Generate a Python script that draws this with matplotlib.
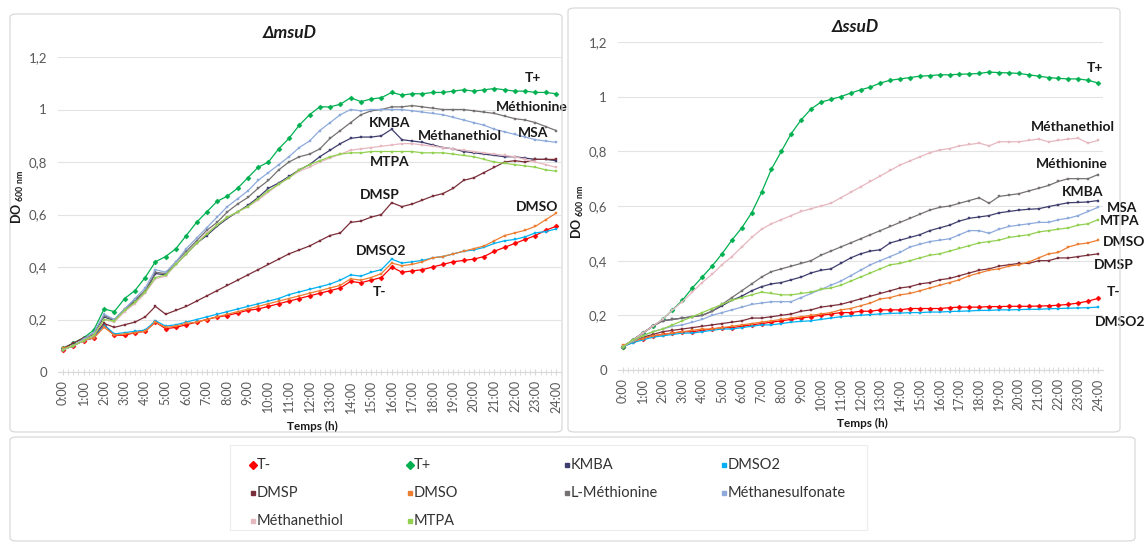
import matplotlib
matplotlib.use("Agg")
import matplotlib.pyplot as plt
from matplotlib.patches import FancyBboxPatch
import numpy as np

# --- donnees (DO 600 nm toutes les 30 min) ---
HOURS = np.arange(0, 24.5, 0.5)
HOUR_TICKS = list(range(25))
HOUR_LABELS = [f"{h}:00" for h in HOUR_TICKS]
Y_TICKS = [0, 0.2, 0.4, 0.6, 0.8, 1.0, 1.2]
Y_LABELS = ["0", "0,2", "0,4", "0,6", "0,8", "1", "1,2"]

SERIES_NAMES = ["T-", "T+", "KMBA", "DMSO2", "DMSP", "DMSO",
                "L-Méthionine", "Méthanesulfonate", "Méthanethiol", "MTPA"]

# panneau gauche : delta msuD
MSUD_T_MINUS = [0.085, 0.10, 0.12, 0.13, 0.18, 0.14, 0.14, 0.15, 0.155, 0.19,
                0.165, 0.17, 0.18, 0.19, 0.20, 0.21, 0.215, 0.225, 0.235, 0.24,
                0.25, 0.26, 0.27, 0.28, 0.29, 0.30, 0.31, 0.32, 0.345, 0.34,
                0.35, 0.36, 0.40, 0.38, 0.385, 0.39, 0.40, 0.41, 0.42, 0.425,
                0.43, 0.44, 0.46, 0.475, 0.49, 0.505, 0.52, 0.54, 0.555]
MSUD_T_PLUS = [0.09, 0.11, 0.13, 0.16, 0.24, 0.23, 0.28, 0.31, 0.36, 0.42,
               0.44, 0.47, 0.52, 0.57, 0.61, 0.65, 0.67, 0.70, 0.74, 0.78,
               0.80, 0.85, 0.89, 0.94, 0.98, 1.01, 1.01, 1.02, 1.045, 1.03,
               1.04, 1.045, 1.065, 1.055, 1.06, 1.06, 1.065, 1.065, 1.07, 1.075,
               1.07, 1.075, 1.08, 1.075, 1.07, 1.07, 1.065, 1.065, 1.06]
MSUD_KMBA = [0.085, 0.10, 0.12, 0.145, 0.21, 0.195, 0.235, 0.27, 0.305, 0.375,
             0.37, 0.41, 0.45, 0.49, 0.52, 0.555, 0.585, 0.61, 0.635, 0.665,
             0.70, 0.72, 0.745, 0.77, 0.79, 0.82, 0.845, 0.87, 0.89, 0.895,
             0.895, 0.90, 0.925, 0.885, 0.88, 0.875, 0.865, 0.855, 0.85, 0.84,
             0.835, 0.83, 0.825, 0.82, 0.82, 0.815, 0.81, 0.81, 0.805]
MSUD_DMSO2 = [0.085, 0.10, 0.12, 0.13, 0.18, 0.145, 0.15, 0.155, 0.16, 0.195,
              0.175, 0.18, 0.19, 0.20, 0.21, 0.22, 0.23, 0.24, 0.25, 0.26,
              0.27, 0.28, 0.295, 0.305, 0.315, 0.325, 0.335, 0.35, 0.37, 0.365,
              0.38, 0.39, 0.43, 0.415, 0.42, 0.425, 0.435, 0.44, 0.45, 0.46,
              0.465, 0.475, 0.49, 0.50, 0.505, 0.515, 0.53, 0.535, 0.545]
MSUD_DMSP = [0.09, 0.11, 0.13, 0.14, 0.185, 0.17, 0.18, 0.19, 0.21, 0.25,
             0.22, 0.235, 0.25, 0.27, 0.29, 0.31, 0.33, 0.35, 0.37, 0.39,
             0.41, 0.43, 0.45, 0.465, 0.48, 0.50, 0.52, 0.53, 0.57, 0.575,
             0.59, 0.60, 0.645, 0.63, 0.64, 0.655, 0.67, 0.68, 0.70, 0.73,
             0.74, 0.76, 0.78, 0.80, 0.805, 0.80, 0.81, 0.81, 0.81]
MSUD_DMSO = [0.09, 0.10, 0.12, 0.13, 0.17, 0.14, 0.145, 0.15, 0.155, 0.19,
             0.17, 0.175, 0.185, 0.19, 0.20, 0.21, 0.22, 0.23, 0.24, 0.25,
             0.26, 0.27, 0.28, 0.29, 0.30, 0.31, 0.32, 0.33, 0.355, 0.35,
             0.36, 0.375, 0.415, 0.405, 0.41, 0.42, 0.435, 0.44, 0.45, 0.46,
             0.47, 0.48, 0.50, 0.52, 0.53, 0.54, 0.555, 0.58, 0.605]
MSUD_METHIONINE = [0.085, 0.10, 0.125, 0.15, 0.215, 0.20, 0.24, 0.275, 0.31, 0.38,
                   0.375, 0.42, 0.46, 0.50, 0.54, 0.57, 0.61, 0.64, 0.665, 0.70,
                   0.73, 0.77, 0.80, 0.82, 0.83, 0.85, 0.89, 0.92, 0.95, 0.98,
                   0.995, 1.0, 1.01, 1.01, 1.015, 1.01, 1.005, 1.0, 1.0, 1.0,
                   0.995, 0.99, 0.985, 0.975, 0.965, 0.96, 0.95, 0.935, 0.92]
MSUD_MSA = [0.085, 0.10, 0.125, 0.15, 0.22, 0.20, 0.24, 0.28, 0.32, 0.39,
            0.38, 0.42, 0.47, 0.51, 0.55, 0.59, 0.63, 0.66, 0.69, 0.73,
            0.76, 0.79, 0.82, 0.855, 0.88, 0.92, 0.95, 0.98, 1.0, 0.995,
            1.0, 1.0, 1.0, 1.0, 0.995, 0.99, 0.985, 0.98, 0.97, 0.96,
            0.95, 0.94, 0.925, 0.915, 0.905, 0.895, 0.885, 0.88, 0.875]
MSUD_METHANETHIOL = [0.085, 0.10, 0.12, 0.14, 0.20, 0.19, 0.23, 0.26, 0.30, 0.355,
                     0.365, 0.41, 0.45, 0.49, 0.53, 0.56, 0.59, 0.61, 0.63, 0.655,
                     0.685, 0.715, 0.74, 0.765, 0.78, 0.80, 0.815, 0.83, 0.845, 0.85,
                     0.855, 0.86, 0.865, 0.87, 0.87, 0.865, 0.86, 0.855, 0.85, 0.845,
                     0.84, 0.835, 0.83, 0.825, 0.82, 0.81, 0.80, 0.79, 0.78]
MSUD_MTPA = [0.085, 0.10, 0.12, 0.14, 0.20, 0.195, 0.235, 0.265, 0.305, 0.36,
             0.37, 0.41, 0.45, 0.49, 0.525, 0.56, 0.59, 0.61, 0.63, 0.66,
             0.69, 0.715, 0.74, 0.77, 0.79, 0.805, 0.82, 0.83, 0.835, 0.835,
             0.84, 0.84, 0.84, 0.84, 0.84, 0.835, 0.835, 0.835, 0.83, 0.825,
             0.82, 0.81, 0.80, 0.795, 0.79, 0.785, 0.78, 0.77, 0.765]

# panneau droit : delta ssuD
SSUD_T_MINUS = [0.085, 0.105, 0.115, 0.125, 0.13, 0.135, 0.14, 0.14, 0.145, 0.15,
                0.155, 0.155, 0.16, 0.165, 0.17, 0.175, 0.18, 0.185, 0.19, 0.195,
                0.20, 0.205, 0.21, 0.21, 0.215, 0.215, 0.22, 0.22, 0.22, 0.225,
                0.225, 0.225, 0.225, 0.228, 0.23, 0.23, 0.23, 0.232, 0.232, 0.233,
                0.233, 0.233, 0.234, 0.235, 0.237, 0.24, 0.245, 0.252, 0.262]
SSUD_T_PLUS = [0.085, 0.11, 0.135, 0.16, 0.185, 0.22, 0.255, 0.30, 0.34, 0.38,
               0.425, 0.475, 0.52, 0.575, 0.65, 0.735, 0.80, 0.865, 0.915, 0.955,
               0.98, 0.99, 1.0, 1.013, 1.025, 1.035, 1.05, 1.06, 1.065, 1.07,
               1.075, 1.077, 1.08, 1.08, 1.082, 1.083, 1.085, 1.09, 1.088, 1.087,
               1.085, 1.08, 1.075, 1.07, 1.067, 1.065, 1.065, 1.06, 1.05]
SSUD_KMBA = [0.085, 0.11, 0.135, 0.16, 0.18, 0.185, 0.19, 0.195, 0.20, 0.215,
             0.235, 0.255, 0.27, 0.29, 0.305, 0.315, 0.32, 0.33, 0.34, 0.355,
             0.365, 0.37, 0.39, 0.41, 0.425, 0.435, 0.44, 0.465, 0.475, 0.485,
             0.495, 0.51, 0.52, 0.53, 0.545, 0.555, 0.56, 0.565, 0.575, 0.58,
             0.585, 0.588, 0.59, 0.598, 0.605, 0.612, 0.613, 0.615, 0.62]
SSUD_DMSO2 = [0.085, 0.10, 0.11, 0.12, 0.125, 0.13, 0.135, 0.135, 0.14, 0.145,
              0.15, 0.15, 0.155, 0.16, 0.165, 0.165, 0.17, 0.175, 0.178, 0.18,
              0.185, 0.19, 0.195, 0.198, 0.20, 0.203, 0.205, 0.207, 0.208, 0.21,
              0.21, 0.212, 0.212, 0.214, 0.215, 0.216, 0.218, 0.218, 0.22, 0.22,
              0.221, 0.222, 0.222, 0.224, 0.225, 0.226, 0.227, 0.228, 0.23]
SSUD_DMSP = [0.085, 0.105, 0.12, 0.13, 0.14, 0.145, 0.15, 0.155, 0.16, 0.165,
             0.17, 0.175, 0.18, 0.19, 0.19, 0.195, 0.20, 0.205, 0.215, 0.22,
             0.23, 0.235, 0.24, 0.25, 0.26, 0.27, 0.28, 0.29, 0.30, 0.305,
             0.315, 0.32, 0.33, 0.335, 0.345, 0.355, 0.365, 0.37, 0.38, 0.385,
             0.39, 0.39, 0.40, 0.40, 0.41, 0.41, 0.415, 0.42, 0.425]
SSUD_DMSO = [0.09, 0.105, 0.115, 0.125, 0.13, 0.135, 0.14, 0.145, 0.15, 0.15,
             0.155, 0.16, 0.165, 0.17, 0.175, 0.18, 0.185, 0.19, 0.195, 0.20,
             0.205, 0.21, 0.22, 0.225, 0.235, 0.245, 0.26, 0.265, 0.275, 0.28,
             0.29, 0.30, 0.31, 0.32, 0.33, 0.345, 0.355, 0.365, 0.37, 0.38,
             0.385, 0.395, 0.41, 0.425, 0.43, 0.45, 0.46, 0.465, 0.475]
SSUD_METHIONINE = [0.085, 0.11, 0.135, 0.16, 0.18, 0.185, 0.19, 0.195, 0.20, 0.215,
                   0.24, 0.265, 0.29, 0.315, 0.34, 0.36, 0.37, 0.38, 0.39, 0.40,
                   0.42, 0.435, 0.45, 0.465, 0.48, 0.495, 0.51, 0.525, 0.54, 0.555,
                   0.57, 0.585, 0.595, 0.60, 0.61, 0.62, 0.63, 0.61, 0.635, 0.64,
                   0.645, 0.655, 0.665, 0.675, 0.69, 0.70, 0.70, 0.70, 0.715]
SSUD_MSA = [0.085, 0.105, 0.125, 0.14, 0.15, 0.16, 0.165, 0.175, 0.185, 0.20,
            0.21, 0.22, 0.23, 0.24, 0.245, 0.25, 0.25, 0.25, 0.265, 0.28,
            0.295, 0.31, 0.325, 0.345, 0.365, 0.385, 0.40, 0.415, 0.43, 0.45,
            0.46, 0.47, 0.475, 0.48, 0.495, 0.51, 0.51, 0.50, 0.515, 0.525,
            0.53, 0.535, 0.54, 0.54, 0.55, 0.555, 0.565, 0.58, 0.595]
SSUD_METHANETHIOL = [0.085, 0.11, 0.135, 0.16, 0.185, 0.22, 0.25, 0.285, 0.32, 0.35,
                     0.385, 0.415, 0.45, 0.485, 0.515, 0.535, 0.55, 0.565, 0.58, 0.59,
                     0.60, 0.61, 0.63, 0.65, 0.67, 0.69, 0.71, 0.73, 0.75, 0.765,
                     0.78, 0.795, 0.805, 0.81, 0.82, 0.825, 0.83, 0.82, 0.835, 0.835,
                     0.835, 0.84, 0.845, 0.835, 0.84, 0.845, 0.848, 0.83, 0.84]
SSUD_MTPA = [0.085, 0.11, 0.125, 0.14, 0.15, 0.165, 0.18, 0.195, 0.21, 0.225,
             0.24, 0.255, 0.265, 0.275, 0.285, 0.28, 0.275, 0.275, 0.28, 0.285,
             0.295, 0.30, 0.31, 0.325, 0.34, 0.355, 0.37, 0.385, 0.39, 0.40,
             0.41, 0.42, 0.425, 0.435, 0.445, 0.455, 0.465, 0.47, 0.475, 0.485,
             0.49, 0.495, 0.505, 0.51, 0.515, 0.52, 0.53, 0.535, 0.55]

MSUD = [MSUD_T_MINUS, MSUD_T_PLUS, MSUD_KMBA, MSUD_DMSO2, MSUD_DMSP, MSUD_DMSO,
        MSUD_METHIONINE, MSUD_MSA, MSUD_METHANETHIOL, MSUD_MTPA]
SSUD = [SSUD_T_MINUS, SSUD_T_PLUS, SSUD_KMBA, SSUD_DMSO2, SSUD_DMSP, SSUD_DMSO,
        SSUD_METHIONINE, SSUD_MSA, SSUD_METHANETHIOL, SSUD_MTPA]

# --- style ---
COLORS = ["#ff0000", "#00b050", "#403e6e", "#00b0f0", "#7b2f3a", "#ed7d31",
          "#767171", "#8eaadb", "#e6b8c0", "#92d050"]
MARKERS = ["D", "D", "s", "s", "s", "s", "s", "s", "s", "s"]
MSIZES = [2.6, 2.6, 2.0, 2.0, 2.0, 2.0, 2.0, 2.0, 2.0, 2.0]

# etiquettes sur les courbes (heure, DO)
MSUD_TAGS = [("T+", 22.9, 1.12), ("Méthionine", 22.8, 1.01), ("MSA", 22.9, 0.91),
             ("KMBA", 15.9, 0.95), ("Méthanethiol", 19.3, 0.90), ("MTPA", 15.9, 0.80),
             ("DMSP", 15.4, 0.675), ("DMSO", 23.1, 0.63), ("DMSO2", 15.5, 0.46),
             ("T-", 15.4, 0.305)]
SSUD_TAGS = [("T+", 23.85, 1.105), ("Méthanethiol", 22.75, 0.89), ("Méthionine", 22.7, 0.755),
             ("KMBA", 23.2, 0.65), ("MSA", 25.2, 0.593), ("MTPA", 25.1, 0.545),
             ("DMSO", 25.3, 0.468), ("DMSP", 24.8, 0.384), ("T-", 24.8, 0.285),
             ("DMSO2", 25.1, 0.176)]

W, H = 1145, 545
FONT = ["Lato", "DejaVu Sans"]
plt.rcParams["font.family"] = FONT


def fx(px):
    return px / W


def fy(py):
    return 1 - py / H


def draw_panel(fig, box, title, title_pos, ylab_pos, xlab_pos, data, tags):
    left, top, right, bottom, hmin, hmax = box
    ax = fig.add_axes([fx(left), fy(bottom), (right - left) / W, (bottom - top) / H])
    for vals, c, m, ms in zip(data, COLORS, MARKERS, MSIZES):
        ax.plot(HOURS, vals, color=c, lw=0.9, marker=m, ms=ms, mfc=c, mec=c, mew=0.3)
    ax.set_xlim(hmin, hmax)
    ax.set_ylim(0, 1.2)
    ax.set_yticks(Y_TICKS)
    ax.set_yticklabels(Y_LABELS, fontsize=9.5, color="#595959")
    ax.set_xticks(HOUR_TICKS)
    ax.set_xticklabels(HOUR_LABELS, rotation=90, fontsize=9, color="#595959")
    ax.set_xticks(np.arange(0, 24.01, 0.25), minor=True)
    ax.tick_params(axis="y", length=0, pad=8)
    ax.tick_params(axis="x", which="major", length=4, direction="inout",
                   color="#d9d9d9", pad=4)
    ax.tick_params(axis="x", which="minor", length=4, direction="inout", color="#d9d9d9")
    ax.yaxis.grid(True, color="#e3e3e3", lw=0.8)
    ax.set_axisbelow(True)
    for s in ["top", "left", "right"]:
        ax.spines[s].set_visible(False)
    ax.spines["bottom"].set_color("#d9d9d9")
    for name, h, v in tags:
        ax.text(h, v, name, ha="center", va="center", fontsize=10,
                fontweight="bold", color="#1a1a1a", clip_on=False)
    fig.text(fx(title_pos[0]), fy(title_pos[1]), title, ha="center", va="center",
             fontsize=12.5, fontweight="bold", fontstyle="italic", color="#1a1a1a")
    fig.text(fx(xlab_pos[0]), fy(xlab_pos[1]), "Temps (h)", ha="center", va="center",
             fontsize=8.5, fontweight="bold", color="#1a1a1a")
    fig.text(fx(ylab_pos[0]), fy(ylab_pos[1]), r"DO $_{\mathregular{600\ nm}}$",
             rotation=90, ha="center", va="center", fontsize=9, fontweight="bold",
             color="#1a1a1a")
    return ax


def main():
    fig = plt.figure(figsize=(W / 100, H / 100), dpi=100)
    fig.patch.set_facecolor("white")

    # cadres des deux graphiques et de la legende
    for x0, y0, x1, y1 in [(10, 14, 562, 432), (568, 8, 1120, 432), (10, 437, 1135, 541)]:
        fig.patches.append(FancyBboxPatch(
            (fx(x0), fy(y1)), (x1 - x0) / W, (y1 - y0) / H,
            boxstyle="round,pad=0,rounding_size=0.006", transform=fig.transFigure,
            facecolor="none", edgecolor="#d9d9d9", lw=0.9))
    fig.patches.append(FancyBboxPatch(
        (fx(230), fy(530)), (867 - 230) / W, (530 - 445) / H,
        boxstyle="square,pad=0", transform=fig.transFigure,
        facecolor="none", edgecolor="#ececec", lw=0.8))

    draw_panel(fig, (58, 57, 561, 372, -0.243, 24.243), "ΔmsuD", (290, 33),
               (18, 197), (312, 426), MSUD, MSUD_TAGS)
    draw_panel(fig, (618, 42, 1103, 370, -0.253, 24.253), "ΔssuD", (855, 27),
               (578, 212), (862, 423), SSUD, SSUD_TAGS)

    # legende en 4 colonnes, remplie ligne par ligne comme dans Excel
    leg = fig.add_axes([0, 0, 1, 1])
    leg.set_xlim(0, W)
    leg.set_ylim(H, 0)
    leg.axis("off")
    col_x = [253, 410, 567, 724]
    row_y = [465, 493, 521]
    for i, name in enumerate(SERIES_NAMES):
        x = col_x[i % 4]
        y = row_y[i // 4]
        leg.plot([x], [y], marker=MARKERS[i], ms=MSIZES[i] + 1.2, color=COLORS[i], lw=0)
        leg.text(x + 4, y, name, ha="left", va="center", fontsize=10.5, color="#333333")

    fig.savefig("out.png", dpi=100)


if __name__ == "__main__":
    main()
